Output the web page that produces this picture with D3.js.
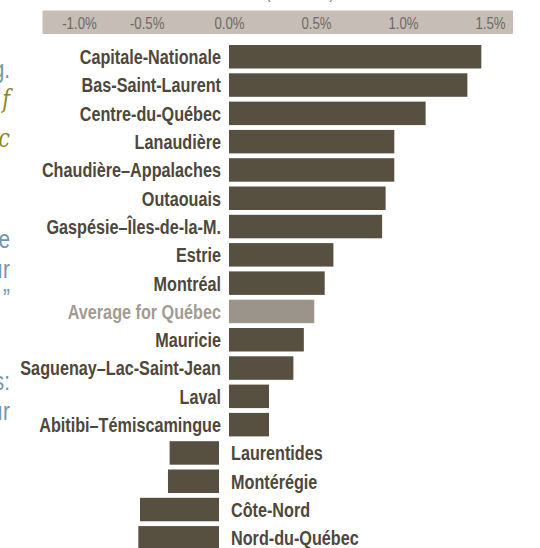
<!DOCTYPE html>
<html><head><meta charset="utf-8">
<script src="https://cdn.jsdelivr.net/npm/d3@7"></script>
<style>html,body{margin:0;padding:0;background:#fff;overflow:hidden}</style>
</head><body>
<svg id="chart" width="540" height="548"></svg>
<script>
const regions = ["Capitale-Nationale","Bas-Saint-Laurent","Centre-du-Québec","Lanaudière","Chaudière–Appalaches","Outaouais","Gaspésie–Îles-de-la-M.","Estrie","Montréal","Average for Québec","Mauricie","Saguenay–Lac-Saint-Jean","Laval","Abitibi–Témiscamingue","Laurentides","Montérégie","Côte-Nord","Nord-du-Québec"];
const values = [1.45,1.37,1.13,0.95,0.95,0.90,0.88,0.60,0.55,0.49,0.43,0.37,0.23,0.23,-0.30,-0.31,-0.48,-0.49];
const averageLabel = "Average for Québec";
const tickValues = [-1.0,-0.5,0.0,0.5,1.0,1.5];
const titleText = "(2006–2011)";
const sideFragments = [
  {t:"g.", c:"blue", y:78},
  {t:"f", c:"olive", y:108},
  {t:"c", c:"olive", y:147},
  {t:"e", c:"blue", y:248},
  {t:"ır", c:"blue", y:278},
  {t:"”", c:"blue", y:307},
  {t:"s:", c:"blue", y:390},
  {t:"ır", c:"blue", y:420}
];

const svg = d3.select("#chart");
const x = d3.scaleLinear().domain([-1,-0.5,0,1.5]).range([79,146.7,229,490]);
const y = d3.scaleBand().domain(regions).range([42.6,552]).paddingInner(0.17).paddingOuter(0.085);
const negGap = 10;
const narrow = 0.79;
const FONT = "'Liberation Sans', Arial, sans-serif";

const barCol = "#574f40", avgCol = "#9b948a", txtCol = "#4e473b", avgTxt = "#a29b91";

// title fragment (cut off at top)
svg.append("g").attr("transform","translate(300,-1) scale(0.8,1)")
  .append("text").attr("text-anchor","middle")
  .attr("font-family",FONT).attr("font-size",15)
  .attr("fill","#6b655f").text(titleText);

// axis band
svg.append("rect").attr("x",42.5).attr("y",10.5).attr("width",470.5).attr("height",23.5).attr("fill","#c5bdb6");
const fmt = d => d3.format(".1f")(d).replace("−","-") + "%";
const axis = d3.axisTop(x).tickValues(tickValues).tickSize(0).tickPadding(0).tickFormat(fmt);
const ag = svg.append("g").attr("transform","translate(0,22.5)").call(axis);
ag.select(".domain").remove();
ag.selectAll("text").attr("dy","0.36em").attr("y",0)
  .attr("transform","scale(0.78,1)")
  .attr("font-family",FONT).attr("font-size",17).attr("font-weight","normal")
  .attr("fill","#706a64");

// bars
const data = regions.map((r,i)=>({r, v:values[i]}));
svg.append("g").selectAll("rect").data(data).join("rect")
  .attr("x", d => d.v >= 0 ? x(0) : x(d.v) - negGap)
  .attr("width", d => Math.abs(x(d.v) - x(0)))
  .attr("y", d => y(d.r)).attr("height", y.bandwidth())
  .attr("fill", d => d.r === averageLabel ? avgCol : barCol);

// labels
svg.append("g").selectAll("g").data(data).join("g")
  .attr("transform", d => `translate(${d.v >= 0 ? x(0) - 8 : x(0) + 2},${y(d.r) + y.bandwidth()/2}) scale(${narrow},1)`)
  .append("text")
  .attr("dy","0.36em")
  .attr("text-anchor", d => d.v >= 0 ? "end" : "start")
  .attr("font-family",FONT).attr("font-weight","bold").attr("font-size",20.5)
  .attr("fill", d => d.r === averageLabel ? avgTxt : txtCol)
  .text(d => d.r);

// cut-off side text fragments
svg.append("g").selectAll("g").data(sideFragments).join("g")
  .attr("transform", d => `translate(10,${d.y}) scale(0.8,1)`)
  .append("text").attr("text-anchor","end")
  .attr("font-family", d => d.c === "olive" ? "'DejaVu Serif', serif" : FONT)
  .attr("font-style", d => d.c === "olive" ? "italic" : "normal")
  .attr("font-size", 26)
  .attr("fill", d => d.c === "olive" ? "#8c8620" : "#7396ab")
  .text(d => d.t);
</script>
</body></html>
